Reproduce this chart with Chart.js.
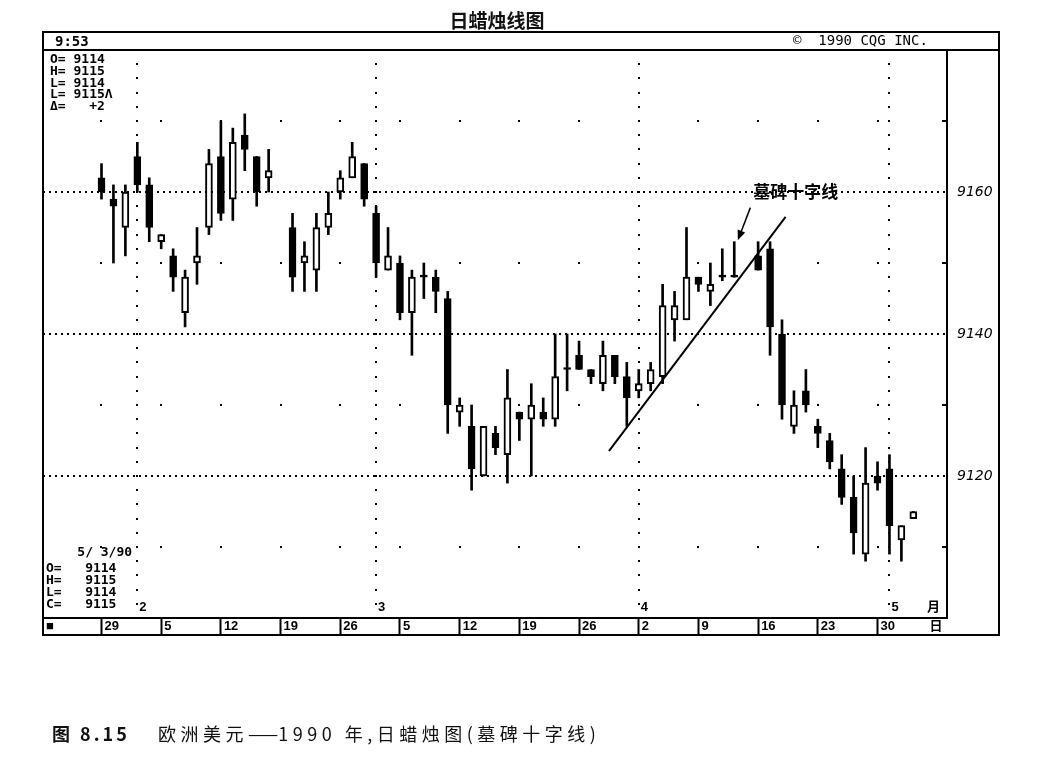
<!DOCTYPE html>
<html>
<head>
<meta charset="utf-8">
<title>日蜡烛线图</title>
<script src="https://cdn.jsdelivr.net/npm/chart.js@4.4.1/dist/chart.umd.min.js"></script>
<style>
  html, body { margin: 0; padding: 0; background: #fff; }
  #wrap { position: relative; width: 1047px; height: 766px; overflow: hidden; }
  #candles { position: absolute; left: 0; top: 0; }
  .title { position: absolute; left: 0; width: 994px; top: 6px; text-align: center;
           font: bold 19px "Noto Sans CJK SC"; line-height: 27px; color: #111; }
  .cap1 { position: absolute; left: 52px; top: 721px; font: bold 18px "Noto Sans CJK SC"; line-height: 24px;
          color: #111; white-space: nowrap; letter-spacing: 3px; }
  .cap2 { position: absolute; left: 158px; top: 721px; font: 18px "Noto Sans CJK SC"; line-height: 24px;
          color: #111; white-space: nowrap; letter-spacing: 4.5px; }
  .cap2 .dash { letter-spacing: 0; }
</style>
</head>
<body>
<div id="wrap">
  <canvas id="candles" width="1047" height="766"></canvas>
  <div class="title">日蜡烛线图</div>
  <div class="cap1">图 8.15</div>
  <div class="cap2">欧洲美元<span class="dash">——</span>1990 年,日蜡烛图(墓碑十字线)</div>
</div>
<script>
// trading days, Jan 29 - May 3 1990 (Feb 19 and Good Friday Apr 13 closed)
const dates = [
  '01-29', '01-30', '01-31', '02-01', '02-02',
  '02-05', '02-06', '02-07', '02-08', '02-09',
  '02-12', '02-13', '02-14', '02-15', '02-16',
  '02-20', '02-21', '02-22', '02-23',
  '02-26', '02-27', '02-28', '03-01', '03-02',
  '03-05', '03-06', '03-07', '03-08', '03-09',
  '03-12', '03-13', '03-14', '03-15', '03-16',
  '03-19', '03-20', '03-21', '03-22', '03-23',
  '03-26', '03-27', '03-28', '03-29', '03-30',
  '04-02', '04-03', '04-04', '04-05', '04-06',
  '04-09', '04-10', '04-11', '04-12',
  '04-16', '04-17', '04-18', '04-19', '04-20',
  '04-23', '04-24', '04-25', '04-26', '04-27',
  '04-30', '05-01', '05-02', '05-03'
];
const opens = [
  9162, 9159, 9155, 9165, 9161, 9153, 9151, 9143, 9150, 9155, 9165, 9159, 9168, 9165, 9162,
  9155, 9150, 9149, 9155, 9160, 9162, 9164, 9157, 9149, 9150, 9143, 9148, 9148, 9145,
  9129, 9127, 9120, 9126, 9123, 9129, 9128, 9129, 9128, 9135, 9137, 9135, 9133, 9137,
  9134, 9132, 9133, 9134, 9142, 9142, 9148, 9146, 9148, 9148,
  9151, 9152, 9140, 9127, 9132, 9127, 9125, 9121, 9117, 9109, 9120, 9121, 9111, 9114
];
const highs = [
  9164, 9161, 9161, 9167, 9162, 9154, 9152, 9149, 9155, 9166, 9170, 9169, 9171, 9165, 9166,
  9157, 9153, 9157, 9160, 9163, 9167, 9164, 9158, 9155, 9151, 9149, 9150, 9149, 9146,
  9131, 9130, 9127, 9127, 9135, 9129, 9133, 9131, 9140, 9140, 9139, 9135, 9139, 9137,
  9136, 9135, 9136, 9147, 9146, 9155, 9148, 9150, 9152, 9153,
  9153, 9153, 9142, 9132, 9135, 9128, 9126, 9123, 9120, 9124, 9122, 9123, 9113, 9115
];
const lows = [
  9159, 9150, 9151, 9160, 9153, 9152, 9146, 9141, 9147, 9154, 9156, 9156, 9163, 9158, 9160,
  9146, 9146, 9146, 9154, 9159, 9162, 9158, 9148, 9149, 9142, 9137, 9145, 9143, 9126,
  9127, 9118, 9120, 9123, 9119, 9125, 9120, 9127, 9127, 9132, 9135, 9133, 9132, 9133,
  9127, 9131, 9132, 9133, 9139, 9142, 9146, 9144, 9147.5, 9148,
  9149, 9137, 9128, 9126, 9129, 9124, 9121, 9116, 9109, 9108, 9118, 9109, 9108, 9114
];
const closes = [
  9160, 9158, 9160, 9161, 9155, 9154, 9148, 9148, 9151, 9164, 9157, 9167, 9166, 9160, 9163,
  9148, 9151, 9155, 9157, 9162, 9165, 9159, 9150, 9151, 9143, 9148, 9148, 9146, 9130,
  9130, 9121, 9127, 9124, 9131, 9128, 9130, 9128, 9134, 9135, 9135, 9134, 9137, 9134,
  9131, 9133, 9135, 9144, 9144, 9148, 9147, 9147, 9148, 9148,
  9149, 9141, 9130, 9130, 9130, 9126, 9122, 9117, 9112, 9119, 9119, 9113, 9113, 9115
];

// axis text
const weekStarts = ['01-29', '02-05', '02-12', '02-19', '02-26', '03-05', '03-12', '03-19', '03-26',
                    '04-02', '04-09', '04-16', '04-23', '04-30'];
const weekLabels = ['29', '5', '12', '19', '26', '5', '12', '19', '26', '2', '9', '16', '23', '30'];
const monthStarts = ['02-01', '03-01', '04-02', '05-01'];
const monthLabels = ['2', '3', '4', '5'];
const priceLabels = [9120, 9140, 9160];
const priceMinor = [9110, 9130, 9150, 9170];

// annotation: support line and gravestone doji note
const trendLine = [{ x: 42.5, y: 9123.5 }, { x: 57.3, y: 9156.5 }];
const noteText = '墓碑十字线';

// CQG quote boxes
const headerLeft = '9:53';
const headerRight = '©  1990 CQG INC.';
const quoteTop = ['O= 9114', 'H= 9115', 'L= 9114', 'L= 9115Λ', 'Δ=   +2'];
const quoteBottom = ['    5/ 3/90', 'O=   9114', 'H=   9115', 'L=   9114', 'C=   9115'];

// weekday slot counted from Mon Jan 29 (weekends removed, holidays keep their slot)
const base = Date.UTC(1990, 0, 29);
function slotOf(md) {
  const [m, d] = md.split('-').map(Number);
  const days = Math.round((Date.UTC(1990, m - 1, d) - base) / 86400000);
  return Math.floor(days / 7) * 5 + days % 7;
}
const slots = dates.map(slotOf);

const bodyData = slots.map((x, i) => ({ x, y: [Math.min(opens[i], closes[i]), Math.max(opens[i], closes[i])] }));
const wickData = slots.map((x, i) => ({ x, y: [lows[i], highs[i]] }));
const bodyColors = closes.map((c, i) => (c > opens[i] ? '#fff' : '#000'));

const xTickValues = [-4.9].concat(weekStarts.map(slotOf), [69.1]);
const xTickLabels = ['■'].concat(weekLabels, ['日']);

const framePlugin = {
  id: 'cqgFrame',
  beforeDatasetsDraw(chart) {
    const { ctx, scales: { x, y } } = chart;
    ctx.save();
    ctx.fillStyle = '#000';
    // dotted month lines
    monthStarts.forEach(md => {
      const px = Math.round(x.getPixelForValue(slotOf(md)));
      for (let p = 9102; p <= 9180; p += 2) {
        ctx.fillRect(px - 1, Math.round(y.getPixelForValue(p)) - 1, 2, 2);
      }
    });
    // sparse dots at odd tens
    weekStarts.forEach(md => {
      const px = Math.round(x.getPixelForValue(slotOf(md)));
      priceMinor.forEach(p => ctx.fillRect(px - 1, Math.round(y.getPixelForValue(p)) - 1, 2, 2));
    });
    // short inward ticks on the price axis
    priceMinor.forEach(p => ctx.fillRect(x.right - 5, Math.round(y.getPixelForValue(p)) - 1, 5, 2));
    ctx.restore();
  },
  afterDraw(chart) {
    const { ctx, scales: { x, y } } = chart;
    ctx.save();
    ctx.strokeStyle = '#000';
    ctx.fillStyle = '#000';
    ctx.lineWidth = 2;
    // outer frame and header row
    ctx.strokeRect(43, 32, 956, 603);
    ctx.beginPath();
    ctx.moveTo(43, 50); ctx.lineTo(999, 50);
    ctx.stroke();

    ctx.textBaseline = 'middle';
    ctx.font = 'bold 14px "DejaVu Sans Mono"';
    ctx.fillText(headerLeft, 55, 42);
    ctx.font = '14px "DejaVu Sans Mono"';
    ctx.fillText(headerRight, 793, 41);

    ctx.font = 'bold 13px "DejaVu Sans Mono"';
    quoteTop.forEach((t, i) => ctx.fillText(t, 50, 60 + i * 11.7));
    const by = [553, 569, 581, 593, 605];
    quoteBottom.forEach((t, i) => ctx.fillText(t, 46, by[i]));

    // month numbers along the bottom of the plot
    ctx.font = 'bold 13px "Liberation Sans", "Noto Sans CJK SC"';
    monthStarts.forEach((md, i) => {
      ctx.fillText(monthLabels[i], x.getPixelForValue(slotOf(md)) + 2, 607);
    });
    ctx.fillText('月', 927, 607);

    // gravestone doji note with arrow
    ctx.font = 'bold 17px "Noto Sans CJK SC"';
    ctx.fillText(noteText, x.getPixelForValue(54.6), y.getPixelForValue(9160));
    const tx = x.getPixelForValue(54.35), ty = y.getPixelForValue(9157.8);
    const hx = x.getPixelForValue(53.3), hy = y.getPixelForValue(9153.2);
    const ang = Math.atan2(hy - ty, hx - tx);
    ctx.lineWidth = 1.5;
    ctx.beginPath();
    ctx.moveTo(tx, ty);
    ctx.lineTo(hx - 6 * Math.cos(ang), hy - 6 * Math.sin(ang));
    ctx.stroke();
    ctx.beginPath();
    ctx.moveTo(hx, hy);
    ctx.lineTo(hx - 10 * Math.cos(ang) + 4 * Math.sin(ang), hy - 10 * Math.sin(ang) - 4 * Math.cos(ang));
    ctx.lineTo(hx - 10 * Math.cos(ang) - 4 * Math.sin(ang), hy - 10 * Math.sin(ang) + 4 * Math.cos(ang));
    ctx.closePath();
    ctx.fill();
    ctx.restore();
  }
};

new Chart(document.getElementById('candles').getContext('2d'), {
  type: 'bar',
  data: {
    datasets: [
      {
        label: '实体',
        data: bodyData,
        order: 0,
        grouped: false,
        barThickness: 7,
        minBarLength: 2,
        backgroundColor: bodyColors,
        borderColor: '#000',
        borderWidth: 2,
        borderSkipped: false
      },
      {
        label: '影线',
        data: wickData,
        order: 1,
        grouped: false,
        barThickness: 2,
        backgroundColor: '#000',
        borderWidth: 0
      },
      {
        type: 'line',
        label: '支撑线',
        data: trendLine,
        order: 2,
        borderColor: '#000',
        borderWidth: 2,
        pointRadius: 0,
        fill: false
      }
    ]
  },
  options: {
    responsive: false,
    animation: false,
    events: [],
    layout: { padding: { left: 43, top: 50, right: 48, bottom: 131 } },
    plugins: {
      legend: { display: false },
      tooltip: { enabled: false }
    },
    scales: {
      x: {
        type: 'linear',
        position: 'bottom',
        min: -4.9,
        max: 70.82,
        offset: false,
        afterBuildTicks: axis => { axis.ticks = xTickValues.map(value => ({ value })); },
        afterFit: axis => { axis.height = 17; },
        grid: {
          offset: false,
          drawOnChartArea: false,
          drawTicks: true,
          tickLength: 17,
          tickWidth: 2,
          tickColor: c => (c.index === 0 || c.index === xTickValues.length - 1 ? 'rgba(0,0,0,0)' : '#000')
        },
        border: { display: true, color: '#000', width: 2 },
        ticks: {
          autoSkip: false,
          maxRotation: 0,
          align: 'start',
          labelOffset: 3,
          padding: -16,
          color: '#000',
          font: { family: '"Liberation Sans", "Noto Sans CJK SC"', weight: 'bold', size: 13 },
          callback: (v, i) => xTickLabels[i]
        }
      },
      y: {
        position: 'right',
        min: 9100,
        max: 9180,
        afterBuildTicks: axis => { axis.ticks = priceLabels.map(value => ({ value })); },
        afterFit: axis => { axis.width = 52; },
        grid: { color: '#000', lineWidth: 2, drawTicks: false },
        border: { display: true, color: '#000', width: 2, dash: [2, 4] },
        ticks: {
          padding: 10,
          color: '#000',
          font: { family: '"DejaVu Sans"', style: 'italic', size: 14 },
          callback: v => String(v)
        }
      }
    }
  },
  plugins: [framePlugin]
});
</script>
</body>
</html>
